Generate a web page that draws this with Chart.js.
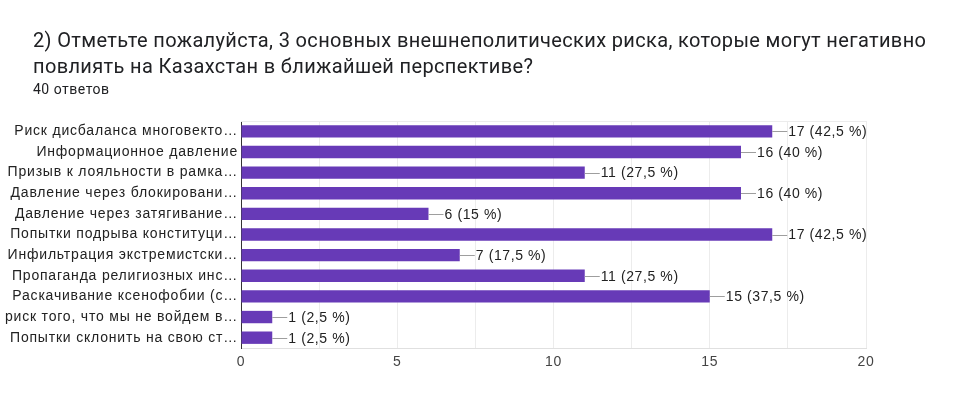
<!DOCTYPE html>
<html><head><meta charset="utf-8">
<script src="https://cdn.jsdelivr.net/npm/chart.js@4/dist/chart.umd.min.js"></script>
<style>
html,body{margin:0;padding:0;background:#fff;}
#wrap{position:relative;width:964px;height:416px;overflow:hidden;}
#title{position:absolute;left:33px;top:27px;font-family:Roboto,Arial,sans-serif;font-size:20px;letter-spacing:0.35px;line-height:26px;color:#202124;width:915px;}
#sub{position:absolute;left:33px;top:81px;font-family:Roboto,Arial,sans-serif;font-size:14px;letter-spacing:0.5px;color:#202124;}
canvas{position:absolute;left:0;top:0;}
</style></head>
<body><div id="wrap">
<canvas id="c" width="964" height="416"></canvas>
<div id="title">2) Отметьте пожалуйста, 3 основных внешнеполитических риска, которые могут негативно повлиять на Казахстан в ближайшей перспективе?</div>
<div id="sub">40 ответов</div>
</div>
<script>
const categories = [
  "Риск дисбаланса многовекто…",
  "Информационное давление",
  "Призыв к лояльности в рамка…",
  "Давление через блокировани…",
  "Давление через затягивание…",
  "Попытки подрыва конституци…",
  "Инфильтрация экстремистски…",
  "Пропаганда религиозных инс…",
  "Раскачивание ксенофобии (с…",
  "риск того, что мы не войдем в…",
  "Попытки склонить на свою ст…"
];
const counts = [17, 16, 11, 16, 6, 17, 7, 11, 15, 1, 1];
const percents = ["42,5", "40", "27,5", "40", "15", "42,5", "17,5", "27,5", "37,5", "2,5", "2,5"];
const tickLabels = ["0", "5", "10", "15", "20"];

const spacing = {
  id: 'spacing',
  beforeDraw(chart) { chart.ctx.letterSpacing = '0.8px'; }
};
const valueLabels = {
  id: 'valueLabels',
  afterDatasetsDraw(chart) {
    const ctx = chart.ctx;
    const meta = chart.getDatasetMeta(0);
    ctx.save();
    ctx.letterSpacing = '0.6px';
    ctx.font = '14px "Liberation Sans", Arial, sans-serif';
    ctx.textBaseline = 'middle';
    ctx.textAlign = 'left';
    meta.data.forEach((bar, i) => {
      const x = bar.x, y = bar.y;
      ctx.strokeStyle = '#9e9e9e';
      ctx.lineWidth = 1;
      ctx.beginPath();
      ctx.moveTo(x, Math.round(y) + 0.5);
      ctx.lineTo(x + 15, Math.round(y) + 0.5);
      ctx.stroke();
      ctx.fillStyle = '#222222';
      ctx.fillText(counts[i] + ' (' + percents[i] + ' %)', x + 16, y + 1);
    });
    ctx.restore();
  }
};
const topLine = {
  id: 'topLine',
  beforeDatasetsDraw(chart) {
    const a = chart.chartArea, ctx = chart.ctx;
    ctx.save();
    ctx.strokeStyle = '#ececec';
    ctx.lineWidth = 1;
    ctx.beginPath();
    ctx.moveTo(a.left, Math.round(a.top) + 0.5);
    ctx.lineTo(a.right, Math.round(a.top) + 0.5);
    ctx.stroke();
    ctx.restore();
  }
};

new Chart(document.getElementById('c'), {
  type: 'bar',
  data: {
    labels: categories,
    datasets: [{
      data: counts,
      backgroundColor: '#673ab7',
      borderWidth: 0,
      barPercentage: 0.6,
      categoryPercentage: 1.0
    }]
  },
  options: {
    indexAxis: 'y',
    responsive: false,
    animation: false,
    layout: { padding: { left: 0, right: 98, top: 121, bottom: 38 } },
    plugins: { legend: { display: false }, tooltip: { enabled: false } },
    scales: {
      x: {
        min: 0, max: 20,
        ticks: {
          stepSize: 2.5,
          autoSkip: false,
          maxRotation: 0,
          padding: 6,
          color: '#444',
          font: { family: '"Liberation Sans", Arial, sans-serif', size: 14 },
          callback: (v) => (v % 5 === 0 ? tickLabels[v / 5] : '')
        },
        grid: { color: '#ececec', drawTicks: false },
        border: { color: '#e0e0e0' },
        afterFit: (s) => { s.height = 30; }
      },
      y: {
        ticks: {
          color: '#222',
          padding: 3,
          font: { family: '"Liberation Sans", Arial, sans-serif', size: 14 }
        },
        grid: { display: false, drawTicks: false },
        border: { color: '#333333', width: 1 },
        afterFit: (s) => { s.width = 241; }
      }
    }
  },
  plugins: [spacing, topLine, valueLabels]
});
</script>
</body></html>
